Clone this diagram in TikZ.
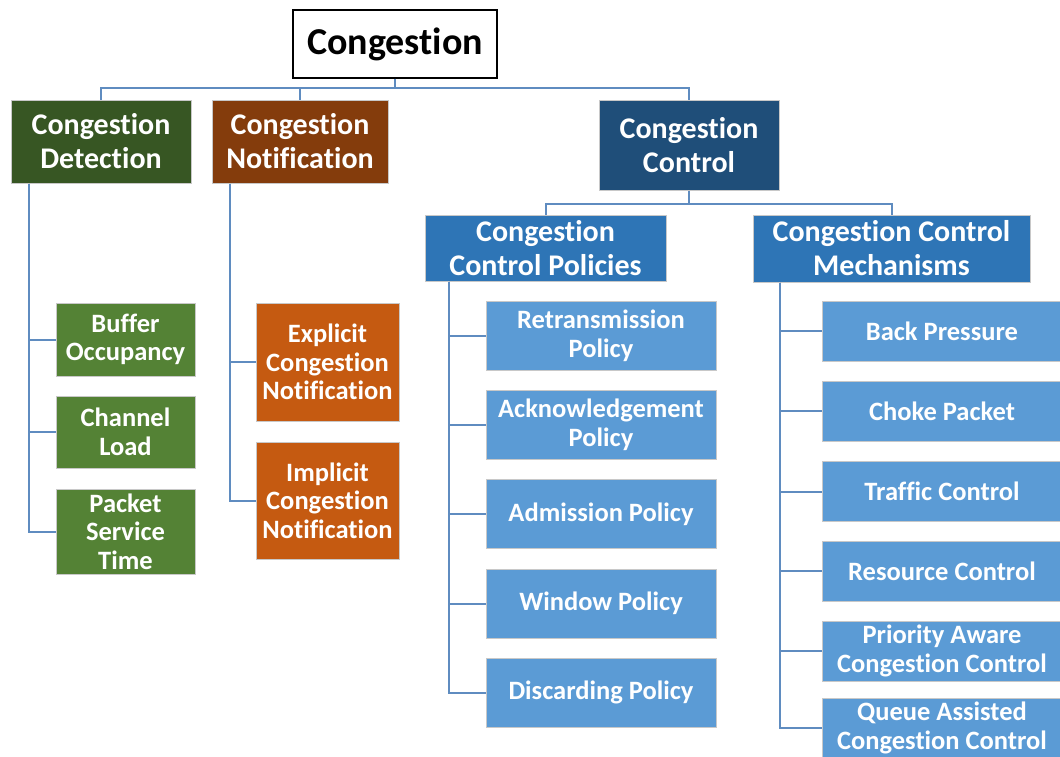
\documentclass[tikz,border=0pt]{standalone}
\usepackage{fontspec}
\setmainfont{Carlito}[Ligatures={NoCommon, NoContextual, NoRare}, Contextuals=NoAlternate]
\definecolor{detgreen}{RGB}{55, 86, 35}
\definecolor{leafgreen}{RGB}{84, 130, 53}
\definecolor{notbrown}{RGB}{132, 60, 12}
\definecolor{leaforange}{RGB}{197, 90, 17}
\definecolor{ctrlnavy}{RGB}{31, 78, 121}
\definecolor{subblue}{RGB}{46, 117, 182}
\definecolor{leafblue}{RGB}{91, 155, 213}
\definecolor{linkblue}{RGB}{95, 140, 192}
\definecolor{edgegray}{RGB}{200, 200, 200}
\usetikzlibrary{positioning, calc}

\begin{document}
\begin{tikzpicture}[x=1pt, y=-1pt,
    box/.style={draw=edgegray, line width=1pt, text=white, align=center, inner sep=0pt, font=\bfseries},
    headbox/.style={box, font=\bfseries\fontsize{30}{34}\selectfont},
    leafbox/.style={box, font=\bfseries\fontsize{26.5}{28.7}\selectfont},
    link/.style={draw=linkblue, line width=2pt}]
  \useasboundingbox (0,0) rectangle (1060,756);

  % Root
  \node[draw=black, line width=1.3pt, fill=white, minimum width=204pt, minimum height=68pt, inner sep=0pt,
        font=\bfseries\fontsize{38}{44}\selectfont] (root) at (395,44) {Congestion};

  % First level
  \node[headbox, fill=detgreen, minimum width=180pt, minimum height=83pt] (det) at (101,141.5) {Congestion\\Detection};
  \node[headbox, fill=notbrown, minimum width=176pt, minimum height=83pt] (notif) at (300,141.5) {Congestion\\Notification};
  \node[headbox, fill=ctrlnavy, minimum width=180pt, minimum height=90pt] (ctrl) at (689,145) {Congestion\\Control};

  % Second level under control
  \node[headbox, fill=subblue, minimum width=241pt, minimum height=66pt] (pol) at (545.5,248) {Congestion\\Control Policies};
  \node[headbox, fill=subblue, minimum width=277pt, minimum height=67pt] (mech) at (891.5,248.5) {Congestion Control\\Mechanisms};

  % Detection leaves
  \node[leafbox, fill=leafgreen, minimum width=139pt, minimum height=73pt] (buf) at (125.5,339.5) {Buffer\\Occupancy};
  \node[leafbox, fill=leafgreen, minimum width=139pt, minimum height=72pt] (chan) at (125.5,432) {Channel\\Load};
  \node[leafbox, fill=leafgreen, minimum width=139pt, minimum height=85pt] (pkt) at (125.5,531.5) {Packet\\Service\\Time};

  % Notification leaves
  \node[leafbox, fill=leaforange, minimum width=143pt, minimum height=118pt] (expl) at (327.5,362) {Explicit\\Congestion\\Notification};
  \node[leafbox, fill=leaforange, minimum width=143pt, minimum height=117pt] (impl) at (327.5,500.5) {Implicit\\Congestion\\Notification};

  % Policy leaves
  \node[leafbox, fill=leafblue, minimum width=230pt, minimum height=69pt] (retx) at (601,336) {Retransmission\\Policy};
  \node[leafbox, fill=leafblue, minimum width=230pt, minimum height=69pt] (ack) at (601,425) {Acknowledgement\\Policy};
  \node[leafbox, fill=leafblue, minimum width=230pt, minimum height=69pt] (adm) at (601,514) {Admission Policy};
  \node[leafbox, fill=leafblue, minimum width=230pt, minimum height=69pt] (win) at (601,603.5) {Window Policy};
  \node[leafbox, fill=leafblue, minimum width=230pt, minimum height=69pt] (disc) at (601,692.5) {Discarding Policy};

  % Mechanism leaves
  \node[leafbox, fill=leafblue, minimum width=240pt, minimum height=60pt] (back) at (942,331) {Back Pressure};
  \node[leafbox, fill=leafblue, minimum width=240pt, minimum height=60pt] (choke) at (942,411) {Choke Packet};
  \node[leafbox, fill=leafblue, minimum width=240pt, minimum height=60pt] (traf) at (942,491.5) {Traffic Control};
  \node[leafbox, fill=leafblue, minimum width=240pt, minimum height=60pt] (res) at (942,571) {Resource Control};
  \node[leafbox, fill=leafblue, minimum width=240pt, minimum height=60pt] (prio) at (942,651) {Priority Aware\\Congestion Control};
  \node[leafbox, fill=leafblue, minimum width=240pt, minimum height=60pt] (queue) at (942,728) {Queue Assisted\\Congestion Control};

  % Connectors
  \coordinate (bus) at (395,88);
  \coordinate (cbus) at (689,204);
  \draw[link] (root.south) -- (bus);
  \draw[link] (det.north) |- (bus) -| (ctrl.north);
  \draw[link] (notif.north) -- (notif.north |- bus);
  \draw[link] (ctrl.south) -- (cbus);
  \draw[link] (pol.north) |- (cbus) -| (mech.north);

  \foreach \n in {buf, chan, pkt}
    \draw[link] ([xshift=18pt]det.south west) |- (\n.west);
  \foreach \n in {expl, impl}
    \draw[link] ([xshift=18pt]notif.south west) |- (\n.west);
  \foreach \n in {retx, ack, adm, win, disc}
    \draw[link] ([xshift=24pt]pol.south west) |- (\n.west);
  \foreach \n in {back, choke, traf, res, prio, queue}
    \draw[link] ([xshift=27pt]mech.south west) |- (\n.west);
\end{tikzpicture}
\end{document}
